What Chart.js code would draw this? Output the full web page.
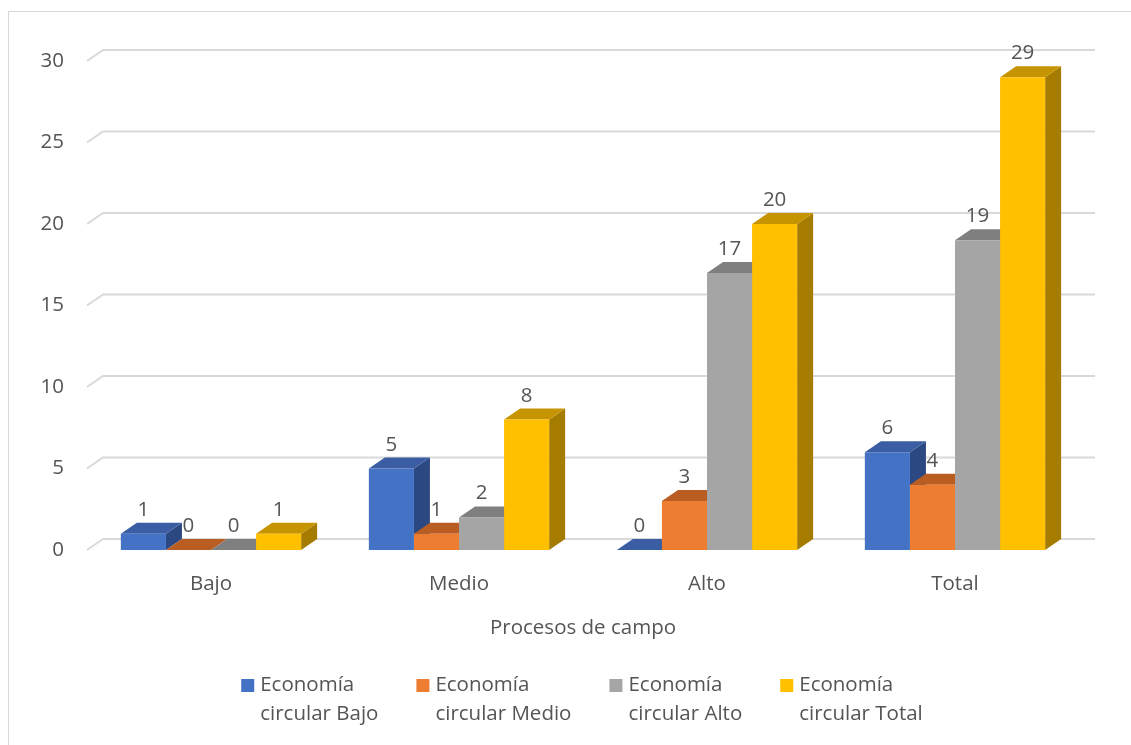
<!DOCTYPE html>
<html>
<head>
<meta charset="utf-8">
<script src="https://cdn.jsdelivr.net/npm/chart.js@4.4.1/dist/chart.umd.min.js"></script>
<style>
    html, body { margin: 0; padding: 0; background: #fff; overflow: hidden; }
    #frame { position: absolute; left: 8px; top: 11px; width: 1300px; height: 900px; border: 1px solid #d9d9d9; }
    #chart { position: absolute; left: 0; top: 0; }
</style>
</head>
<body>
<div id="frame"></div>
<canvas id="chart" width="1131" height="745"></canvas>
<script>
const categories = ['Bajo', 'Medio', 'Alto', 'Total'];
const seriesLabels = [
    ['Economía', 'circular Bajo'],
    ['Economía', 'circular Medio'],
    ['Economía', 'circular Alto'],
    ['Economía', 'circular Total'],
];
const circularBajo = [1, 5, 0, 6];
const circularMedio = [0, 1, 3, 4];
const circularAlto = [0, 2, 17, 19];
const circularTotal = [1, 8, 20, 29];
const yTicks = [0, 5, 10, 15, 20, 25, 30];

const frontColors = ['#4472C4', '#ED7D31', '#A5A5A5', '#FFC000'];
const topColors = ['#3A5DA3', '#B95D22', '#7F7F7F', '#C69400'];
const sideColors = ['#2C4883', '#A24F1C', '#6B6B6B', '#A67C00'];

const DEPTH_X = 16;
const DEPTH_Y = 11;
const textColor = '#555555';
const fontSize = 20.5;
const fontFamily = '"Open Sans", "Noto Sans", sans-serif';

// grid on the back wall + top and side faces of the bars
const bars3d = {
    id: 'bars3d',
    beforeDatasetsDraw(chart) {
        const { ctx, chartArea, scales } = chart;
        const yScale = scales.y;

        ctx.save();
        ctx.strokeStyle = '#d9d9d9';
        ctx.lineWidth = 2;
        for (const value of yTicks) {
            const py = yScale.getPixelForValue(value);
            ctx.beginPath();
            ctx.moveTo(chartArea.left, py);
            ctx.lineTo(chartArea.left + DEPTH_X, py - DEPTH_Y);
            ctx.lineTo(chartArea.right + DEPTH_X, py - DEPTH_Y);
            ctx.stroke();
        }

        for (let i = 0; i < categories.length; i++) {
            chart.data.datasets.forEach((dataset, d) => {
                const bar = chart.getDatasetMeta(d).data[i];
                const { x, y, base, width } = bar.getProps(['x', 'y', 'base', 'width'], true);
                const left = x - width / 2;
                const right = x + width / 2;

                ctx.fillStyle = sideColors[d];
                ctx.beginPath();
                ctx.moveTo(right, y);
                ctx.lineTo(right + DEPTH_X, y - DEPTH_Y);
                ctx.lineTo(right + DEPTH_X, base - DEPTH_Y);
                ctx.lineTo(right, base);
                ctx.closePath();
                ctx.fill();

                ctx.fillStyle = topColors[d];
                ctx.beginPath();
                ctx.moveTo(left, y);
                ctx.lineTo(left + DEPTH_X, y - DEPTH_Y);
                ctx.lineTo(right + DEPTH_X, y - DEPTH_Y);
                ctx.lineTo(right, y);
                ctx.closePath();
                ctx.fill();
            });
        }
        ctx.restore();
    },
    afterDatasetsDraw(chart) {
        const { ctx } = chart;
        ctx.save();
        ctx.fillStyle = textColor;
        ctx.font = fontSize + 'px ' + fontFamily;
        ctx.textAlign = 'center';
        ctx.textBaseline = 'alphabetic';
        chart.data.datasets.forEach((dataset, d) => {
            chart.getDatasetMeta(d).data.forEach((bar, i) => {
                const { x, y } = bar.getProps(['x', 'y'], true);
                ctx.fillText(String(dataset.data[i]), x, y - DEPTH_Y - 7);
            });
        });
        ctx.restore();
    },
    // two-line legend under the axis title
    afterDraw(chart) {
        const { ctx } = chart;
        ctx.save();
        ctx.font = fontSize + 'px ' + fontFamily;
        ctx.textBaseline = 'middle';
        ctx.textAlign = 'left';
        const box = 13, boxGap = 6, itemGap = 38;
        const widths = seriesLabels.map(lines =>
            box + boxGap + Math.max(...lines.map(t => ctx.measureText(t).width)));
        const total = widths.reduce((a, b) => a + b, 0) + itemGap * (widths.length - 1);
        let cx = 582 - total / 2;
        const lineY = 685, lineStep = 29;
        seriesLabels.forEach((lines, d) => {
            ctx.fillStyle = frontColors[d];
            ctx.fillRect(cx, lineY - 6, box, box);
            ctx.fillStyle = textColor;
            lines.forEach((t, k) => ctx.fillText(t, cx + box + boxGap, lineY + k * lineStep));
            cx += widths[d] + itemGap;
        });
        ctx.restore();
    }
};

const seriesData = [circularBajo, circularMedio, circularAlto, circularTotal];

new Chart(document.getElementById('chart'), {
    type: 'bar',
    data: {
        labels: categories,
        datasets: seriesData.map((values, d) => ({
            label: seriesLabels[d].join(' '),
            data: values,
            backgroundColor: frontColors[d],
            borderWidth: 0,
            barPercentage: 1,
            categoryPercentage: 0.727,
        })),
    },
    options: {
        responsive: false,
        animation: false,
        layout: { padding: { top: 61, right: 52, left: 0, bottom: 95 } },
        plugins: {
            tooltip: { enabled: false },
            legend: { display: false },
        },
        scales: {
            x: {
                grid: { display: false },
                border: { display: false },
                ticks: {
                    color: textColor,
                    padding: 14,
                    font: { family: fontFamily, size: fontSize, lineHeight: 1.2 },
                },
                title: {
                    display: true,
                    text: 'Procesos de campo',
                    color: textColor,
                    font: { family: fontFamily, size: fontSize, lineHeight: 1.2 },
                    padding: { top: 0, bottom: 10 },
                },
                afterFit(scale) { scale.height = 100; },
            },
            y: {
                min: 0,
                max: 30,
                grid: { display: false },
                border: { display: false },
                ticks: {
                    stepSize: 5,
                    color: textColor,
                    padding: 15,
                    font: { family: fontFamily, size: fontSize },
                },
                afterFit(scale) { scale.width = 87; },
            },
        },
    },
    plugins: [bars3d],
});
</script>
</body>
</html>
